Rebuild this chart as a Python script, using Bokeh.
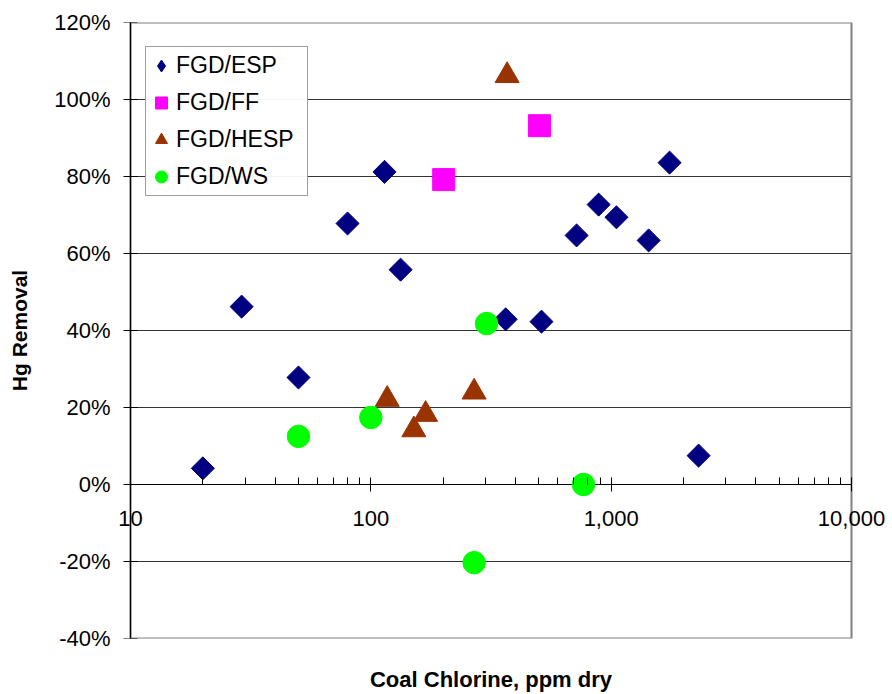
import math
from bokeh.plotting import figure
from bokeh.models import (FixedTicker, NumeralTickFormatter, Range1d, Legend,
                          LegendItem, LogAxis)
from bokeh.embed import file_html
from bokeh.resources import INLINE

# ---- data ----
esp_x = [20, 29, 50, 80, 114, 133, 364, 513, 718, 887, 1052, 1432, 1750, 2311]
esp_y = [0.042, 0.462, 0.278, 0.678, 0.812, 0.558, 0.429, 0.423, 0.647, 0.727, 0.694, 0.634, 0.836, 0.075]

ff_x = [201, 503]
ff_y = [0.792, 0.932]

hesp_x = [117, 151, 169, 269, 369]
hesp_y = [0.221, 0.142, 0.182, 0.240, 1.062]

ws_x = [50, 100, 269, 303, 767]
ws_y = [0.125, 0.174, -0.203, 0.418, 0.0]

x_decades = [10, 100, 1000, 10000]
y_ticks = [-0.4, -0.2, 0.0, 0.2, 0.4, 0.6, 0.8, 1.0, 1.2]

FONT = "Liberation Sans"

# layout: plot area 721 px wide for 3 decades; frame padded on both sides so
# tick labels at the ends of the x axis are not clipped
AREA_W = 721
PAD = 37
pad_dec = PAD / (AREA_W / (len(x_decades) - 1))
x_lo = x_decades[0] / 10 ** pad_dec
x_hi = x_decades[-1] * 10 ** pad_dec

p = figure(width=892, height=694, x_axis_type="log",
           x_range=Range1d(x_lo, x_hi),
           y_range=Range1d(y_ticks[0], y_ticks[-1]),
           output_backend="svg", toolbar_location=None,
           min_border_left=130 - PAD, min_border_right=892 - 130 - AREA_W - PAD,
           min_border_top=22, min_border_bottom=56)
p.background_fill_color = "white"
p.border_fill_color = "white"
p.outline_line_color = None
p.xgrid.visible = False
p.ygrid.visible = False

# plot area: gridlines, border, axis lines
inner = y_ticks[1:-1]
p.segment(x0=[x_decades[0]] * len(inner), x1=[x_decades[-1]] * len(inner),
          y0=inner, y1=inner, line_color="#333333", line_width=1)
p.quad(left=[x_decades[0]], right=[x_decades[-1]], bottom=[y_ticks[0]], top=[y_ticks[-1]],
       fill_color=None, line_color="#808080", line_width=2)
p.segment(x0=[x_decades[0]], x1=[x_decades[0]], y0=[y_ticks[0]], y1=[y_ticks[-1]],
          line_color="black", line_width=1.2)
p.segment(x0=[x_decades[0]], x1=[x_decades[-1]], y0=[0], y1=[0],
          line_color="black", line_width=1.2)
# y tick marks (outer half visible, inner half lies on the gridline)
p.scatter(x=[x_decades[0]] * len(y_ticks), y=y_ticks, marker="dash", size=14,
          line_color="black", line_width=1.2)

# x axis ticks and labels drawn at y = 0
minor = [m * d for d in x_decades[:-1] for m in range(2, 10)]
xa = p.xaxis[0]
xa.ticker = FixedTicker(ticks=x_decades, minor_ticks=minor)
xa.formatter = NumeralTickFormatter(format="0,0")
xa.fixed_location = 0
xa.axis_line_color = None
xa.major_tick_line_color = "black"
xa.minor_tick_line_color = "black"
xa.major_tick_in = 7
xa.major_tick_out = 7
xa.minor_tick_in = 7
xa.minor_tick_out = 0
xa.major_label_standoff = 19
xa.major_label_text_font = FONT
xa.major_label_text_font_size = "22px"
xa.major_label_text_color = "black"

# bottom axis carrying only the title
xb = LogAxis(ticker=FixedTicker(ticks=[]), axis_line_color=None,
             major_tick_line_color=None, minor_tick_line_color=None,
             major_tick_in=0, major_tick_out=0, minor_tick_in=0, minor_tick_out=0,
             major_label_text_font_size="1px", major_label_text_color=None,
             axis_label="Coal Chlorine, ppm dry", axis_label_standoff=28,
             axis_label_text_font=FONT, axis_label_text_font_size="22px",
             axis_label_text_font_style="bold", axis_label_text_color="black")
p.add_layout(xb, "below")

# y axis (labels only; ticks and line are drawn at x = 10)
ya = p.yaxis[0]
ya.ticker = FixedTicker(ticks=y_ticks)
ya.formatter = NumeralTickFormatter(format="0%")
ya.axis_line_color = None
ya.major_tick_line_color = None
ya.major_tick_in = 0
ya.major_tick_out = 0
ya.minor_tick_line_color = None
ya.major_label_standoff = -(PAD - 20)
ya.major_label_text_font = FONT
ya.major_label_text_font_size = "22px"
ya.major_label_text_color = "black"
ya.axis_label = "Hg Removal"
ya.axis_label_text_font = FONT
ya.axis_label_text_font_size = "21px"
ya.axis_label_text_font_style = "bold"
ya.axis_label_text_color = "black"
ya.axis_label_standoff = 20

# markers
r_esp_leg = p.scatter(esp_x, esp_y, marker="diamond", size=1,
                      fill_color="#000080", line_color="#000080")
r_esp = p.scatter(esp_x, esp_y, marker="square", angle=math.pi / 4, size=16.3,
                  fill_color="#000080", line_color="#000080")
r_ff = p.scatter(ff_x, ff_y, marker="square", size=22,
                 fill_color="#FF00FF", line_color="#FF00FF")
r_hesp = p.scatter(hesp_x, hesp_y, marker="triangle", size=24,
                   fill_color="#993300", line_color="#993300")
r_ws = p.scatter(ws_x, ws_y, marker="circle", size=22.5,
                 fill_color="#00FF00", line_color="#00FF00")

legend = Legend(items=[
    LegendItem(label="FGD/ESP", renderers=[r_esp_leg]),
    LegendItem(label="FGD/FF", renderers=[r_ff]),
    LegendItem(label="FGD/HESP", renderers=[r_hesp]),
    LegendItem(label="FGD/WS", renderers=[r_ws]),
], location=(15 + PAD, 442))
legend.margin = 0
legend.padding = 0
legend.spacing = 0
legend.glyph_width = 30
legend.glyph_height = 37
legend.label_height = 37
legend.label_width = 131
legend.label_standoff = 0
legend.label_text_font = FONT
legend.label_text_font_size = "23px"
legend.label_text_color = "black"
legend.border_line_color = "#404040"
legend.border_line_width = 1
legend.background_fill_color = "white"
p.add_layout(legend, "center")

open("out.html", "w").write(file_html(p, INLINE))
